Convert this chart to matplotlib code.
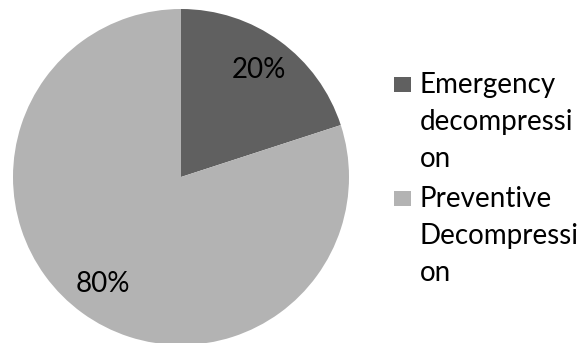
import matplotlib
matplotlib.use("Agg")
import matplotlib.pyplot as plt
from matplotlib.patches import Rectangle

plt.rcParams['font.family'] = ['Lato', 'DejaVu Sans']

# Share of decompression types
labels = ["Emergency\ndecompressi\non", "Preventive\nDecompressi\non"]
shares = [20, 80]
colors = ["#606060", "#b3b3b3"]

fig = plt.figure(figsize=(5.87, 3.43), dpi=100)
W, H = 587, 343

# pie centred at (181, 177) px from top-left, radius 168 px
cx, cy, r = 181, 177, 168
ax = fig.add_axes([(cx - r) / W, (H - cy - r) / H, 2 * r / W, 2 * r / H])
wedges, texts, autotexts = ax.pie(
    shares, colors=colors, startangle=90, counterclock=False,
    autopct="%d%%", pctdistance=0.79,
    wedgeprops=dict(linewidth=0),
    textprops=dict(fontsize=20, color="black"))
ax.set_xlim(-1, 1)
ax.set_ylim(-1, 1)
ax.set_aspect("equal")
for w in wedges:
    w.set_clip_on(False)

# legend drawn by hand: square marker next to first line of each label
first_baselines = [93, 207]
line_step = 37
for lab, col, base in zip(labels, colors, first_baselines):
    fig.patches.append(Rectangle((394 / W, 1 - (base - 1) / H), 17 / W, 15 / H,
                                 transform=fig.transFigure, facecolor=col,
                                 edgecolor="none"))
    for i, line in enumerate(lab.split("\n")):
        fig.text(420 / W, 1 - (base + i * line_step) / H, line, fontsize=20,
                 va="baseline", ha="left")

fig.savefig("out.png", dpi=100, facecolor="white")
